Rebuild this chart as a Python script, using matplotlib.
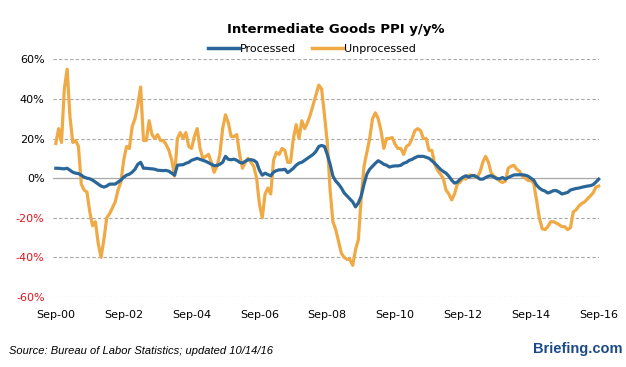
import matplotlib
matplotlib.use("Agg")
import matplotlib.pyplot as plt
import numpy as np

title = "Intermediate Goods PPI y/y%"
series_names = ["Processed", "Unprocessed"]
start_year, start_month = 2000, 9

processed = [
    5, 5, 4.8, 4.7, 5, 4, 3, 2.5, 2.3, 1.5, 0.5, 0, -0.3, -1, -2, -3, -4, -4.5, -4, -3,
    -3, -3, -2, -1, 0.5, 1.5, 2, 3, 4.5, 7, 8, 5, 5, 4.8, 4.7, 4.5, 4, 3.9, 3.8, 3.9,
    3.5, 2.5, 1.5, 6.5, 6.7, 6.8, 7.5, 8, 9, 9.5, 10, 9.5, 9, 8.5, 7.8, 7, 6.3, 6.4, 7, 8,
    11, 9.5, 9.3, 9.6, 9, 8, 7.6, 8.5, 9.3, 9.3, 9, 8, 4, 1.5, 2.5, 1.8, 1.2, 3, 3.8, 4.2,
    4.2, 4.5, 2.8, 3.8, 5, 6.5, 7.6, 8, 9, 10, 11, 12, 13.5, 16, 16.5, 16, 12, 7, 1, -1.5,
    -3, -5, -7.5, -9, -10.5, -12, -14.5, -12.5, -9, -3, 2, 4.5, 6, 7.5, 8.8, 8, 7, 6.5, 5.6, 6,
    6.2, 6.2, 6.5, 7.5, 8, 9, 9.5, 10.3, 11, 11, 11, 10.5, 10, 8.8, 7.5, 6, 4.5, 3.4, 2.5, 1,
    -1, -2.5, -2, -0.5, 0.5, 1.2, 0.5, 1.2, 1.3, 0.5, -0.5, -0.5, 0.3, 1, 1.2, 0.5, -0.3, -0.3, 0.3, -0.5,
    0.3, 1, 1.6, 1.7, 1.7, 1.7, 1.5, 1, 0, -1, -3.5, -5, -6, -6.5, -7.5, -7, -6.3, -6.3, -7, -8,
    -7.6, -7.2, -6, -5.6, -5.2, -5, -4.6, -4.3, -4, -3.8, -3.3, -2, -0.5,
]

unprocessed = [
    17.5, 25, 18, 45, 55, 31, 18, 19, 16, -3, -6, -7, -17, -24, -22, -33, -40, -31, -20, -18,
    -15, -12, -6, -2, 9, 16, 15, 26, 30, 37, 46, 19, 19, 29, 22, 20, 22, 19, 19, 17,
    14, 9, 1, 20, 23, 20, 23, 16, 15, 21, 25, 15, 10, 11, 12, 8, 3, 6, 12, 25,
    32, 28, 21, 21, 22, 12, 5, 8, 10, 8, 6, 0, -13, -20, -8, -5, -8, 9, 13, 12,
    15, 14, 8, 8, 20, 27, 20, 29, 25, 28, 32, 37, 42, 47, 45, 32, 18, -6, -22, -26,
    -32, -38, -40, -41, -41, -44, -36, -31, -10, 6, 13, 20, 30, 33, 30, 24, 15, 20, 20, 20.5,
    17, 15, 15, 12, 16, 17, 20, 24, 25, 24, 20, 20, 14, 14, 7, 4, 2, 0, -6, -8,
    -11, -8, -3, -2, 0, -0.5, 1.5, 1.5, 1, 0.3, 3, 8, 11, 8, 2.5, 1, 0, -1.5, -2.2, -1.5,
    5, 6, 6.5, 4.5, 3.5, 1, 0, -1.2, -1.2, -2.5, -11, -20, -25.5, -26, -24.5, -22, -22, -22.7, -23.5, -24.5,
    -24.5, -26, -25, -17, -16, -14, -12.8, -12, -10.5, -9, -7.5, -4.5, -4,
]

y_ticks = [60, 40, 20, 0, -20, -40, -60]
x_tick_labels = ["Sep-00", "Sep-02", "Sep-04", "Sep-06", "Sep-08", "Sep-10", "Sep-12", "Sep-14", "Sep-16"]
source_text = "Source: Bureau of Labor Statistics; updated 10/14/16"
brand_text = "Briefing.com"

blue = "#2B6699"
orange = "#F0AA45"

W, H = 626, 367
fig = plt.figure(figsize=(W / 100, H / 100), dpi=100)
left_px, right_px = 53, 599
top_px, bot_px = 59.3, 297
ax = fig.add_axes([left_px / W, 1 - bot_px / H, (right_px - left_px) / W, (bot_px - top_px) / H])

x = np.arange(len(processed))
xu = np.arange(len(unprocessed))
ax.plot(xu, unprocessed, color=orange, lw=2.3, solid_joinstyle="round", zorder=3, clip_on=False)
ax.plot(x, processed, color=blue, lw=2.3, solid_joinstyle="round", zorder=4, clip_on=False)

ax.set_xlim(-1, 192.1)
ax.set_ylim(-60, 60)
for spine in ax.spines.values():
    spine.set_visible(False)

for v in y_ticks:
    if v == 0:
        ax.axhline(v, color="#a8a8a8", lw=0.9, zorder=1)
    else:
        ax.axhline(v, color="#a8a8a8", lw=0.8, ls=(0, (3, 2)), zorder=1)

ax.set_yticks(y_ticks)
ax.set_yticklabels([f"{v}%" for v in y_ticks])
for lbl, v in zip(ax.get_yticklabels(), y_ticks):
    lbl.set_color("#e8141c" if v < 0 else "black")
ax.set_xticks(np.arange(0, 193, 24))
ax.set_xticklabels(x_tick_labels)
ax.tick_params(axis="y", length=0, pad=6, labelsize=8)
ax.tick_params(axis="x", length=0, pad=9, labelsize=8)

fig.text(336 / W, 1 - 29 / H, title, ha="center", va="center", fontsize=9.5, fontweight="bold")

# legend
leg = ax.legend(handles=[plt.Line2D([], [], color=blue, lw=2.5), plt.Line2D([], [], color=orange, lw=2.5)],
                labels=series_names, loc="center", bbox_to_anchor=(312 / W, 1 - 49 / H),
                bbox_transform=fig.transFigure, ncol=2, frameon=False, fontsize=8,
                handlelength=2.8, handletextpad=0.1, columnspacing=1.4, borderpad=0)

fig.text(9 / W, 1 - 351 / H, source_text, ha="left", va="center", fontsize=8, style="italic",
         family="Liberation Sans")
fig.text(622 / W, 1 - 349 / H, brand_text, ha="right", va="center", fontsize=10.5, fontweight="bold",
         color="#1c4a86", family="Liberation Sans")

fig.savefig("out.png", dpi=100)
